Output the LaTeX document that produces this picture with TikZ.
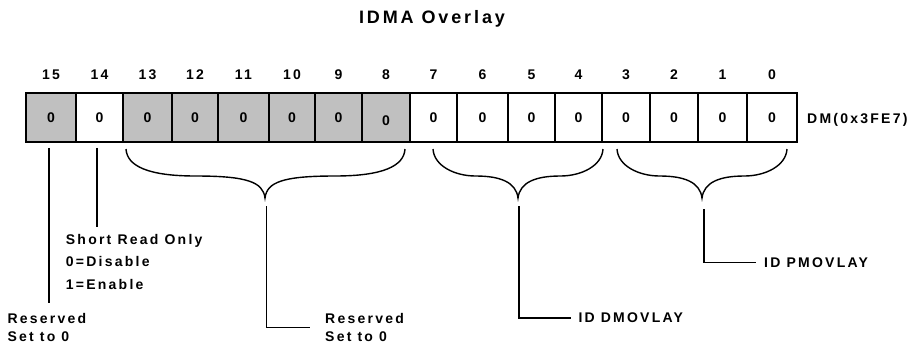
\documentclass[tikz,border=0pt]{standalone}
\usepackage{fontspec}
\setmainfont{Liberation Sans}[LetterSpace=16]
\usetikzlibrary{calc}
\definecolor{cellgray}{RGB}{192,192,192}

% draws a curly brace hanging below the register from x=#1 to x=#2, tip at x=#3
\newcommand\regbrace[3]{%
  \draw[bracepath] (#1,149) .. controls (#1+1,166) and (#1+22,176) .. ({(#1+#3)/2},176)
    .. controls (#3-18,176) and (#3-2,182) .. (#3,198)
    .. controls (#3+2,182) and (#3+18,176) .. ({(#3+#2)/2},176)
    .. controls (#2-22,176) and (#2-1,166) .. (#2,149);}

\begin{document}
\begin{tikzpicture}[x=1pt,y=-1pt,
  txt/.style={font=\bfseries\fontsize{14}{17}\selectfont, inner sep=0pt},
  cell/.style={draw, line width=1.5pt, minimum height=49pt, inner sep=0pt,
    font=\bfseries\fontsize{14}{17}\selectfont},
  bitnum/.style={txt},
  lbl/.style={txt, align=left, anchor=north west},
  lead/.style={line width=1.5pt},
  bracepath/.style={line width=1.4pt}]
\useasboundingbox (0,0) rectangle (910,346);

\node[txt, font=\bfseries\fontsize{18}{20}\selectfont] (title) at (432,19) {IDMA Overlay};

% register cells: bit / left edge / right edge / fill / text
\foreach \b/\l/\r/\f/\t in {
  15/26/76/cellgray/0, 14/76/123/white/0, 13/123/172/cellgray/0,
  12/172/218/cellgray/0, 11/218/269/cellgray/0, 10/269/315/cellgray/0,
  9/315/362/cellgray/0, 8/362/410/cellgray/\raisebox{-3pt}[\height][0pt]{0},
  7/410/457/white/0, 6/457/508/white/0, 5/508/555/white/0, 4/555/602/white/0,
  3/602/650/white/0, 2/650/698/white/0, 1/698/747/white/0, 0/747/797/white/0}{
  \node[cell, fill=\f, minimum width={\r-\l}] (c\b) at ({(\l+\r)/2},117.5) {\t};
  \node[bitnum] (n\b) at ({(\l+\r)/2},75) {\b};
}
\node[txt, anchor=west] (dm) at (807,119.5) {DM(0x3FE7)};

% braces grouping bits 13-8, 7-4 and 3-0
\regbrace{126}{405}{265}
\regbrace{433}{603}{518}
\regbrace{617}{787}{702}
\coordinate (t1) at (266.5,206);
\coordinate (t2) at (519,206);
\coordinate (t3) at (704,209);

% field labels
\node[lbl, font=\bfseries\fontsize{14}{17.4}\selectfont] (r15) at (7.3,313.3) {Reserved\\Set to 0};
\node[lbl, font=\bfseries\fontsize{14}{22.2}\selectfont] (sro) at (65.7,234.3) {Short Read Only\\0=Disable\\1=Enable};
\node[lbl, font=\bfseries\fontsize{14}{17.4}\selectfont] (r813) at (325,313.3) {Reserved\\Set to 0};
\node[lbl] (dmov) at (578.3,312.7) {ID DMOVLAY};
\node[lbl] (pmov) at (764,257.3) {ID PMOVLAY};

% leader lines
\coordinate (e15) at (49,303.3);
\coordinate (e14) at (97,227);
\draw[lead] (c15.south -| e15) ++(0,5) -- (e15);
\draw[lead] (c14.south -| e14) ++(0,5) -- (e14);
\draw[lead] (t1) |- ($(r813.west)+(-15,0)$);
\draw[lead] (t2) |- ($(dmov.west)+(-7.5,0)$);
\draw[lead] (t3) |- ($(pmov.west)+(-8,0)$);
\end{tikzpicture}
\end{document}
